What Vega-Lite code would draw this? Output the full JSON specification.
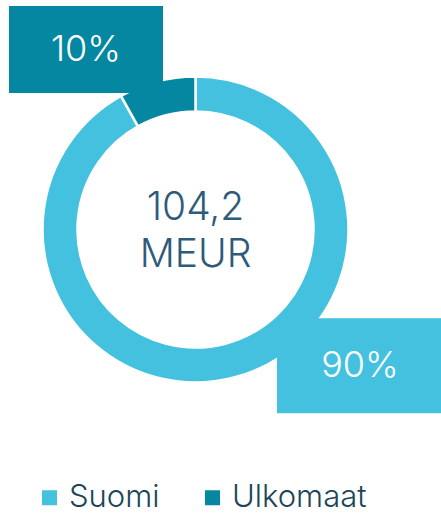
{
  "$schema": "https://vega.github.io/schema/vega-lite/v6.json",
  "width": 391,
  "height": 459,
  "padding": 0,
  "autosize": {"type": "pad"},
  "background": "white",
  "config": {"view": {"stroke": null}},
  "data": {"values": [
    {"category": "Suomi", "share": 91.9, "label": "90%"},
    {"category": "Ulkomaat", "share": 8.1, "label": "10%"}
  ]},
  "layer": [
    {
      "mark": {"type": "arc", "outerRadius": 153, "innerRadius": 118, "stroke": "white", "strokeWidth": 2.5},
      "encoding": {
        "theta": {"field": "share", "type": "quantitative", "stack": true},
        "order": {"field": "category", "sort": "ascending"},
        "color": {
          "field": "category", "type": "nominal",
          "scale": {"domain": ["Suomi", "Ulkomaat"], "range": ["#45c1e0", "#0687a1"]},
          "legend": {
            "title": null, "orient": "none", "direction": "horizontal",
            "legendX": 34, "legendY": 482,
            "symbolType": "square", "symbolSize": 225, "symbolStrokeWidth": 0, "symbolOpacity": 1,
            "labelFont": "Inter", "labelFontSize": 31, "labelFontWeight": 300, "labelColor": "#1c4658",
            "labelOffset": 4, "columnPadding": 37, "labelLimit": 300
          }
        }
      }
    },
    {
      "mark": {"type": "point", "filled": true, "opacity": 1, "strokeWidth": 0},
      "encoding": {
        "x": {"field": "category", "type": "nominal", "axis": null,
              "scale": {"type": "point", "domain": ["Ulkomaat", "Suomi"], "range": [86, 360], "padding": 0}},
        "y": {"field": "category", "type": "nominal", "axis": null,
              "scale": {"type": "point", "domain": ["Ulkomaat", "Suomi"], "range": [49.5, 365.8], "padding": 0}},
        "color": {"field": "category", "type": "nominal", "legend": null},
        "shape": {"field": "category", "type": "nominal", "legend": null,
                  "scale": {"domain": ["Ulkomaat", "Suomi"], "range": ["M-1,-0.565L1,-0.565L1,0.565L-1,0.565Z", "M-1,-0.572L1,-0.572L1,0.572L-1,0.572Z"]}},
        "size": {"field": "category", "type": "nominal", "legend": null,
                 "scale": {"domain": ["Ulkomaat", "Suomi"], "range": [23716, 27556]}}
      }
    },
    {
      "mark": {"type": "text", "color": "white", "font": "Inter", "fontSize": 36, "fontWeight": 300, "baseline": "middle", "align": "center"},
      "encoding": {
        "x": {"field": "category", "type": "nominal"},
        "y": {"field": "category", "type": "nominal"},
        "text": {"field": "label"}
      }
    },
    {
      "data": {"values": [{"total": "104,2", "unit": "MEUR"}]},
      "mark": {"type": "text", "font": "Inter", "fontSize": 39, "fontWeight": 300, "color": "#2f5b7a", "baseline": "middle", "align": "center", "lineHeight": 47, "dy": -22},
      "encoding": {
        "text": {"value": ["104,2", "MEUR"]}
      }
    }
  ]
}
